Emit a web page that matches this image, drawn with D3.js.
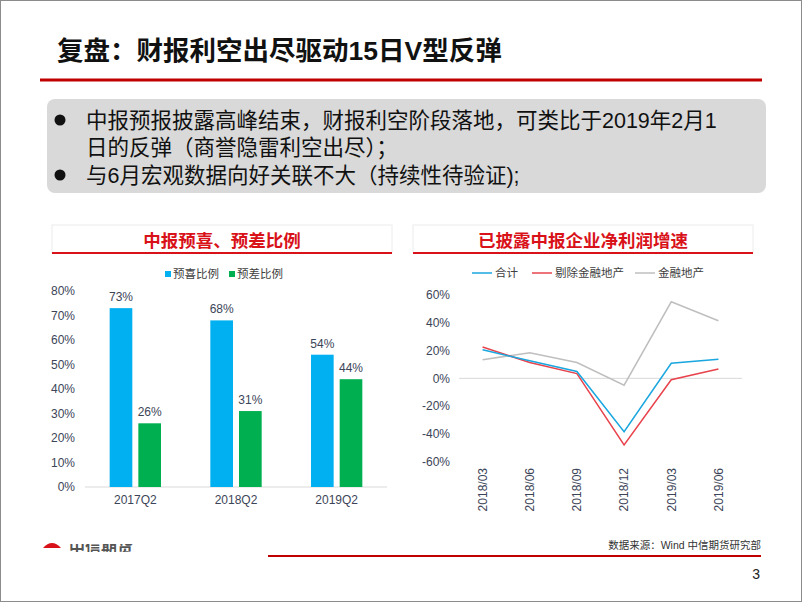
<!DOCTYPE html>
<html>
<head>
<meta charset="utf-8">
<script src="https://cdn.jsdelivr.net/npm/d3@7"></script>
<style>
  body { margin: 0; background: #fff; }
  svg { display: block; font-family: "Liberation Sans", "Noto Sans CJK SC", sans-serif; }
</style>
</head>
<body>
<script>
// page text
const pageTitle = "复盘：财报利空出尽驱动15日V型反弹";
const bulletLines = [
  {bullet: true, text: "中报预报披露高峰结束，财报利空阶段落地，可类比于2019年2月1"},
  {bullet: false, text: "日的反弹（商誉隐雷利空出尽）；"},
  {bullet: true, text: "与6月宏观数据向好关联不大（持续性待验证);"}
];

// left chart: 中报预喜、预差比例
const quarters = ["2017Q2", "2018Q2", "2019Q2"];
const yuxi = [73, 68, 54];   // 预喜比例
const yucha = [26, 31, 44];  // 预差比例
const barTicks = [0, 10, 20, 30, 40, 50, 60, 70, 80];

// right chart: 已披露中报企业净利润增速
const months = ["2018/03", "2018/06", "2018/09", "2018/12", "2019/03", "2019/06"];
const heji = [20.6, 12.6, 4.9, -38.4, 10.9, 13.8];      // 合计
const tichu = [22.6, 11.4, 3.4, -48.0, -1.0, 6.8];      // 剔除金融地产
const jinrong = [13.4, 18.5, 11.4, -4.9, 55.1, 41.5];   // 金融地产
const lineTicks = [-60, -40, -20, 0, 20, 40, 60];

const red = "#D9121A";
const axisText = "#3c4558";

var svg = d3.select("body").append("svg")
  .attr("width", 802)
  .attr("height", 602);

svg.append("rect")
  .attr("x", 0.5).attr("y", 0.5)
  .attr("width", 801).attr("height", 601)
  .attr("fill", "#fff")
  .attr("stroke", "#8c8c8c");

// header
svg.append("text")
  .attr("x", 57).attr("y", 60)
  .attr("font-size", 26.5).attr("font-weight", 700)
  .attr("fill", "#111")
  .text(pageTitle);

svg.append("line")
  .attr("x1", 40).attr("x2", 762)
  .attr("y1", 80).attr("y2", 80)
  .attr("stroke", "#C00000").attr("stroke-width", 3);

// bullet box
svg.append("rect")
  .attr("x", 47).attr("y", 99)
  .attr("width", 719).attr("height", 94)
  .attr("rx", 8)
  .attr("fill", "#d9d9d9");

var bl = svg.append("g").selectAll("g")
  .data(bulletLines)
  .enter().append("g")
  .attr("transform", function(d, i) { return "translate(0," + (120 + i * 27.5) + ")"; });

bl.filter(function(d) { return d.bullet; })
  .append("circle")
  .attr("cx", 60).attr("cy", 0).attr("r", 5.5)
  .attr("fill", "#111");

bl.append("text")
  .attr("x", 86).attr("dy", "0.36em")
  .attr("font-size", 21.5)
  .attr("fill", "#111")
  .text(function(d) { return d.text; });

// panel header helper
function panelHeader(x, w, title) {
  svg.append("rect")
    .attr("x", x).attr("y", 225)
    .attr("width", w).attr("height", 28)
    .attr("fill", "#fff")
    .attr("stroke", "#ececec");
  svg.append("line")
    .attr("x1", x).attr("x2", x + w)
    .attr("y1", 253).attr("y2", 253)
    .attr("stroke", red).attr("stroke-width", 2);
  svg.append("text")
    .attr("x", x + w / 2).attr("y", 241)
    .attr("dy", "0.36em")
    .attr("text-anchor", "middle")
    .attr("font-size", 17.5).attr("font-weight", 700)
    .attr("fill", red)
    .text(title);
}

panelHeader(52, 340, "中报预喜、预差比例");
panelHeader(413, 340, "已披露中报企业净利润增速");

// ---------- bar chart ----------
var barSeries = [
  {name: "预喜比例", color: "#00B0F0", values: yuxi},
  {name: "预差比例", color: "#00B050", values: yucha}
];

var x0 = d3.scaleBand()
  .domain(quarters)
  .range([85, 387])
  .paddingInner(0.49)
  .paddingOuter(0.245);

var x1 = d3.scaleBand()
  .domain(barSeries.map(function(d) { return d.name; }))
  .range([0, x0.bandwidth()])
  .paddingInner(0.21);

var yb = d3.scaleLinear()
  .domain([0, 80])
  .range([487, 291]);

var gb = svg.append("g");

gb.append("g")
  .selectAll("text")
  .data(barTicks)
  .enter().append("text")
  .attr("x", 75).attr("y", function(d) { return yb(d); })
  .attr("dy", "0.36em")
  .attr("text-anchor", "end")
  .attr("font-size", 12)
  .attr("fill", axisText)
  .text(function(d) { return d + "%"; });

gb.append("line")
  .attr("x1", 85).attr("x2", 387)
  .attr("y1", yb(0)).attr("y2", yb(0))
  .attr("stroke", "#d9d9d9");

var grp = gb.append("g").selectAll("g")
  .data(barSeries)
  .enter().append("g")
  .style("fill", function(d) { return d.color; });

grp.selectAll("rect")
  .data(function(d) { return d.values.map(function(v, i) { return {k: d.name, q: quarters[i], v: v}; }); })
  .enter().append("rect")
  .attr("x", function(d) { return x0(d.q) + x1(d.k); })
  .attr("y", function(d) { return yb(d.v); })
  .attr("width", x1.bandwidth())
  .attr("height", function(d) { return yb(0) - yb(d.v); });

grp.selectAll("text")
  .data(function(d) { return d.values.map(function(v, i) { return {k: d.name, q: quarters[i], v: v}; }); })
  .enter().append("text")
  .attr("x", function(d) { return x0(d.q) + x1(d.k) + x1.bandwidth() / 2; })
  .attr("y", function(d) { return yb(d.v) - 7; })
  .attr("text-anchor", "middle")
  .attr("font-size", 12)
  .style("fill", axisText)
  .text(function(d) { return d.v + "%"; });

gb.append("g").selectAll("text")
  .data(quarters)
  .enter().append("text")
  .attr("x", function(d) { return x0(d) + x0.bandwidth() / 2; })
  .attr("y", 500)
  .attr("dy", "0.36em")
  .attr("text-anchor", "middle")
  .attr("font-size", 12)
  .attr("fill", axisText)
  .text(function(d) { return d; });

// bar legend
var bleg = gb.append("g").selectAll("g")
  .data(barSeries)
  .enter().append("g")
  .attr("transform", function(d, i) { return "translate(" + (165 + i * 64) + ",274)"; });
bleg.append("rect")
  .attr("x", 0).attr("y", -3)
  .attr("width", 6).attr("height", 6)
  .attr("fill", function(d) { return d.color; });
bleg.append("text")
  .attr("x", 8).attr("dy", "0.36em")
  .attr("font-size", 11.5)
  .attr("fill", "#404040")
  .text(function(d) { return d.name; });

// ---------- line chart ----------
var lineSeries = [
  {name: "合计", color: "#1AA7DF", values: heji},
  {name: "剔除金融地产", color: "#E8434C", values: tichu},
  {name: "金融地产", color: "#BFBFBF", values: jinrong}
];

var xl = d3.scalePoint()
  .domain(months)
  .range([459, 742])
  .padding(0.5);

var yl = d3.scaleLinear()
  .domain([-60, 60])
  .range([461.7, 295]);

var gl = svg.append("g");

gl.append("g").selectAll("text")
  .data(lineTicks)
  .enter().append("text")
  .attr("x", 450).attr("y", function(d) { return yl(d); })
  .attr("dy", "0.36em")
  .attr("text-anchor", "end")
  .attr("font-size", 12)
  .attr("fill", axisText)
  .text(function(d) { return d + "%"; });

gl.append("line")
  .attr("x1", 459).attr("x2", 742)
  .attr("y1", yl(0)).attr("y2", yl(0))
  .attr("stroke", "#d9d9d9");

gl.append("g").selectAll("text")
  .data(months)
  .enter().append("text")
  .attr("transform", function(d) { return "translate(" + xl(d) + ",468) rotate(-90)"; })
  .attr("dy", "0.36em")
  .attr("text-anchor", "end")
  .attr("font-size", 12)
  .attr("fill", axisText)
  .text(function(d) { return d; });

var line = d3.line()
  .x(function(d, i) { return xl(months[i]); })
  .y(function(d) { return yl(d); });

gl.append("g").selectAll("path")
  .data(lineSeries.slice().reverse())
  .enter().append("path")
  .attr("d", function(d) { return line(d.values); })
  .attr("fill", "none")
  .attr("stroke", function(d) { return d.color; })
  .attr("stroke-width", 1.5);

var legX = [472, 532, 635];
var lleg = gl.append("g").selectAll("g")
  .data(lineSeries)
  .enter().append("g")
  .attr("transform", function(d, i) { return "translate(" + legX[i] + ",273)"; });
lleg.append("line")
  .attr("x1", 0).attr("x2", 20)
  .attr("stroke", function(d) { return d.color; })
  .attr("stroke-width", 1.5);
lleg.append("text")
  .attr("x", 23).attr("dy", "0.36em")
  .attr("font-size", 11.5)
  .attr("fill", "#404040")
  .text(function(d) { return d.name; });

// footer
var logo = svg.append("g");
logo.append("path")
  .attr("d", "M43,548 Q52,538 61,548 Z")
  .attr("fill", "#D9121A");
logo.append("clipPath").attr("id", "logoclip")
  .append("rect").attr("x", 60).attr("y", 544).attr("width", 100).attr("height", 8);
logo.append("text")
  .attr("x", 69).attr("y", 553)
  .attr("font-size", 16).attr("font-weight", 700)
  .attr("fill", "#555")
  .attr("clip-path", "url(#logoclip)")
  .text("中信期货");

svg.append("text")
  .attr("x", 761).attr("y", 545)
  .attr("dy", "0.36em")
  .attr("text-anchor", "end")
  .attr("font-size", 10.5)
  .attr("fill", "#333")
  .text("数据来源：Wind 中信期货研究部");

svg.append("line")
  .attr("x1", 268).attr("x2", 761)
  .attr("y1", 556).attr("y2", 556)
  .attr("stroke", "#C00000").attr("stroke-width", 2);

svg.append("text")
  .attr("x", 760).attr("y", 574)
  .attr("dy", "0.36em")
  .attr("text-anchor", "end")
  .attr("font-size", 14)
  .attr("fill", "#222")
  .text("3");
</script>
</body>
</html>
